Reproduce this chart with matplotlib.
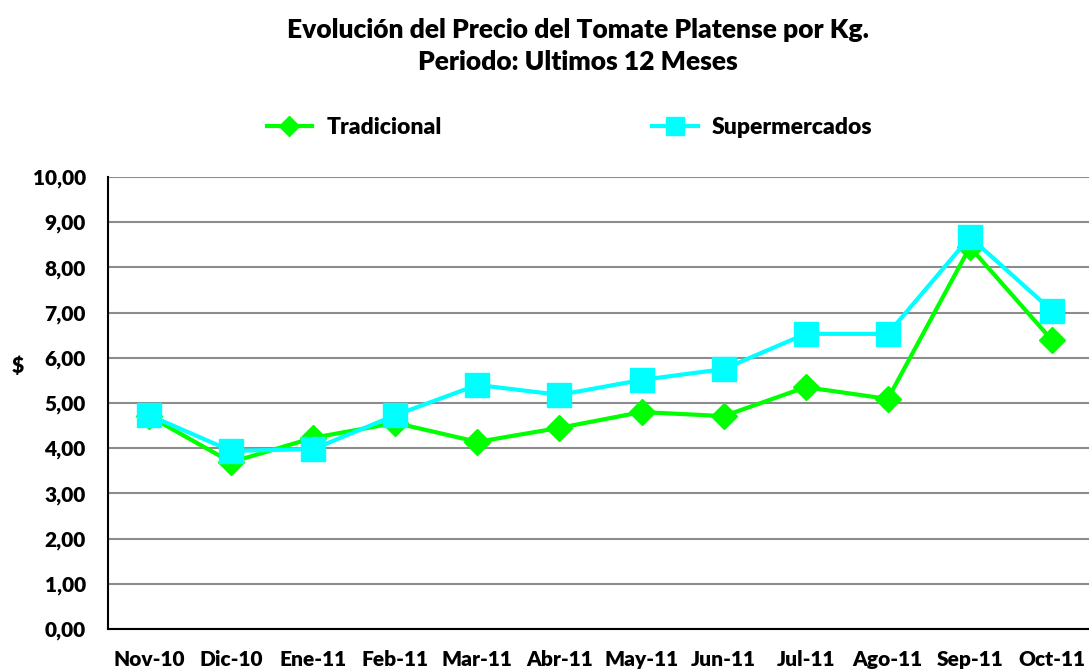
import matplotlib
matplotlib.use("Agg")
import matplotlib.pyplot as plt
from matplotlib.ticker import FuncFormatter

plt.rcParams['font.family'] = ['Lato', 'DejaVu Sans']
plt.rcParams['font.weight'] = 'heavy'

months = ['Nov-10', 'Dic-10', 'Ene-11', 'Feb-11', 'Mar-11', 'Abr-11',
          'May-11', 'Jun-11', 'Jul-11', 'Ago-11', 'Sep-11', 'Oct-11']
tradicional = [4.71, 3.69, 4.23, 4.56, 4.14, 4.45, 4.80, 4.71, 5.35, 5.09, 8.45, 6.39]
supermercados = [4.73, 3.94, 3.98, 4.73, 5.40, 5.18, 5.51, 5.75, 6.53, 6.53, 8.67, 7.04]

fig = plt.figure(figsize=(10.89, 6.71), dpi=100)
ax = fig.add_axes([0.0992, 0.0626, 0.9045, 0.6736])

x = list(range(len(months)))
l1, = ax.plot(x, tradicional, color='#00ff00', lw=3, marker='D', ms=13, zorder=3)
l2, = ax.plot(x, supermercados, color='#00ffff', lw=3, marker='s', ms=17, zorder=4)

ax.set_ylim(0, 10)
ax.set_xlim(-0.5, 11.5)
ax.set_yticks(range(0, 11))
ax.yaxis.set_major_formatter(FuncFormatter(lambda v, p: f"{v:.2f}".replace('.', ',')))
ax.set_xticks(x)
ax.set_xticklabels(months)
ax.tick_params(axis='both', length=0, labelsize=15)
ax.tick_params(axis='x', pad=15)
ax.tick_params(axis='y', pad=16)
ax.grid(axis='y', color='#8c8c8c', lw=1.5)
ax.set_axisbelow(True)
for s in ['top', 'right']:
    ax.spines[s].set_visible(False)
for s in ['left', 'bottom']:
    ax.spines[s].set_linewidth(1.5)
    ax.spines[s].set_color('black')

fig.text(0.0165, 0.455, '$', fontsize=15, ha='center', va='center')

fig.text(0.531, 0.955, 'Evolución del Precio del Tomate Platense por Kg.', fontsize=19,
         ha='center', va='center')
fig.text(0.531, 0.907, 'Periodo: Ultimos 12 Meses', fontsize=19, ha='center', va='center')

fig.legend([l1, l2], ['Tradicional', 'Supermercados'], loc='center',
           bbox_to_anchor=(0.523, 0.81), ncol=2, frameon=False, fontsize=16.5,
           columnspacing=9.2, handlelength=2.0, handletextpad=0.6,
           markerscale=0.75)

fig.savefig('out.png', dpi=100)
